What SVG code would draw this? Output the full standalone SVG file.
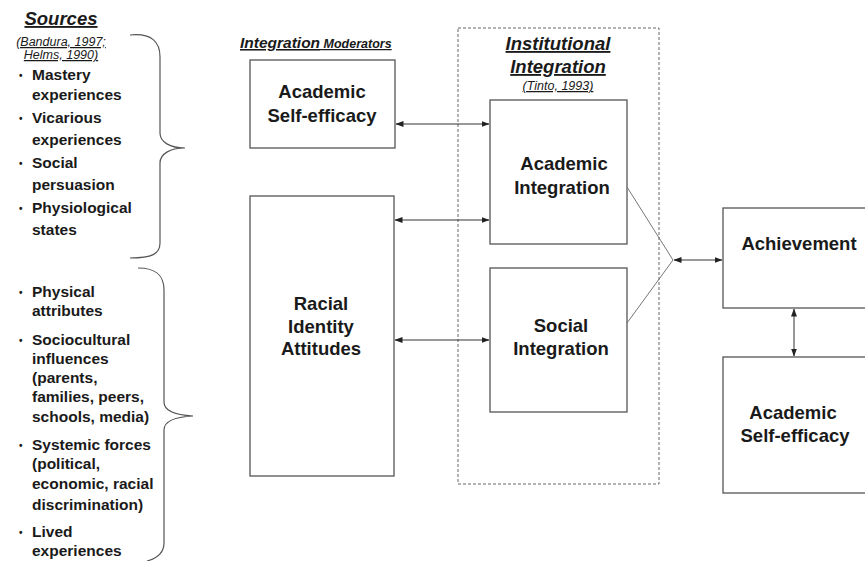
<svg xmlns="http://www.w3.org/2000/svg" width="865" height="561" viewBox="0 0 865 561">
<style>
text{font-family:"Liberation Sans",Arial,sans-serif;fill:#1a1a1a;font-weight:bold}
.box{fill:#fff;stroke:#555;stroke-width:1.3}
.bt{font-size:18.5px;text-anchor:middle}
.li{font-size:15.5px}
.bu{font-size:10px}
.ttl{font-style:italic;text-decoration:underline}
.cit{font-size:12.5px;font-weight:normal}
.con{stroke:#333;stroke-width:1;fill:none}
.thin{stroke:#777;stroke-width:1;fill:none}
.brace{stroke:#555;stroke-width:1.2;fill:none}
</style>
<defs>
<marker id="ah" viewBox="0 0 8 8" refX="7.5" refY="4" markerWidth="8" markerHeight="8" markerUnits="userSpaceOnUse" orient="auto-start-reverse">
<path d="M0,1 L8,4 L0,7 Z" fill="#222"/>
</marker>
</defs>
<rect width="865" height="561" fill="#fff"/>

<g id="sources">
<text class="ttl" x="61" y="25" font-size="18.5" text-anchor="middle">Sources</text>
<text class="ttl cit" x="61" y="46" text-anchor="middle">(Bandura, 1997;</text>
<text class="ttl cit" x="61" y="59" text-anchor="middle">Helms, 1990)</text>
<text x="19" y="79" class="bu">•</text><text x="32" y="80" class="li">Mastery</text>
<text x="32" y="100" class="li">experiences</text>
<text x="19" y="122" class="bu">•</text><text x="32" y="123" class="li">Vicarious</text>
<text x="32" y="145" class="li">experiences</text>
<text x="19" y="167" class="bu">•</text><text x="32" y="168" class="li">Social</text>
<text x="32" y="190" class="li">persuasion</text>
<text x="19" y="212" class="bu">•</text><text x="32" y="213" class="li">Physiological</text>
<text x="32" y="235" class="li">states</text>
<path class="brace" d="M130,35 C152,33 160,42 160,57 L160,133 C160,142 170,148 185,148 C170,148 160,154 160,163 L160,243 C160,254 152,258 130,258"/>
</g>

<g id="identity-sources">
<text x="19" y="296" class="bu">•</text><text x="32" y="297" class="li">Physical</text>
<text x="32" y="316" class="li">attributes</text>
<text x="19" y="344" class="bu">•</text><text x="32" y="345" class="li">Sociocultural</text>
<text x="32" y="364" class="li">influences</text>
<text x="32" y="383" class="li">(parents,</text>
<text x="32" y="402" class="li">families, peers,</text>
<text x="32" y="422" class="li">schools, media)</text>
<text x="19" y="449" class="bu">•</text><text x="32" y="450" class="li">Systemic forces</text>
<text x="32" y="469" class="li">(political,</text>
<text x="32" y="489" class="li">economic, racial</text>
<text x="32" y="510" class="li">discrimination)</text>
<text x="19" y="536" class="bu">•</text><text x="32" y="537" class="li">Lived</text>
<text x="32" y="556" class="li">experiences</text>
<path class="brace" d="M138,268 C156,268 164,275 164,290 L164,402 C164,410 174,415 193,416 C174,417 164,422 164,430 L164,543 C164,553 158,558 147,561"/>
</g>

<g id="moderators-label">
<text class="ttl" x="240" y="48"><tspan font-size="15.5">Integration</tspan><tspan font-size="12.5"> Moderators</tspan></text>
</g>

<g id="institutional-frame">
<rect x="458" y="28" width="201" height="456" fill="none" stroke="#666" stroke-width="1" stroke-dasharray="3,2"/>
<text class="ttl" x="558" y="50" font-size="18.5" text-anchor="middle">Institutional</text>
<text class="ttl" x="558" y="73" font-size="18.5" text-anchor="middle">Integration</text>
<text class="ttl cit" x="558" y="90" text-anchor="middle">(Tinto, 1993)</text>
</g>

<g id="ase-top">
<rect class="box" x="250" y="60" width="145" height="88"/>
<text class="bt" x="322" y="98">Academic</text>
<text class="bt" x="322" y="122">Self-efficacy</text>
</g>

<g id="racial">
<rect class="box" x="250" y="196" width="144" height="280"/>
<text class="bt" x="321" y="310">Racial</text>
<text class="bt" x="321" y="333">Identity</text>
<text class="bt" x="321" y="355">Attitudes</text>
</g>

<g id="academic-integration">
<rect class="box" x="490" y="100" width="137" height="144"/>
<text class="bt" x="564" y="170">Academic</text>
<text class="bt" x="562" y="194">Integration</text>
</g>

<g id="social-integration">
<rect class="box" x="490" y="268" width="137" height="144"/>
<text class="bt" x="561" y="332">Social</text>
<text class="bt" x="561" y="355">Integration</text>
</g>

<g id="achievement">
<rect class="box" x="723" y="208" width="150" height="100"/>
<text class="bt" x="799" y="250">Achievement</text>
</g>

<g id="ase-bottom">
<rect class="box" x="723" y="357" width="150" height="136"/>
<text class="bt" x="793" y="419">Academic</text>
<text class="bt" x="795" y="442">Self-efficacy</text>
</g>

<g id="connectors">
<line class="con" x1="396" y1="124" x2="489" y2="124" marker-start="url(#ah)" marker-end="url(#ah)"/>
<line class="con" x1="395" y1="220" x2="489" y2="220" marker-start="url(#ah)" marker-end="url(#ah)"/>
<line class="con" x1="395" y1="340" x2="489" y2="340" marker-start="url(#ah)" marker-end="url(#ah)"/>
<line class="thin" x1="627" y1="187" x2="673" y2="260"/>
<line class="thin" x1="627" y1="323" x2="673" y2="260"/>
<line class="con" x1="674" y1="260" x2="722" y2="260" marker-start="url(#ah)" marker-end="url(#ah)"/>
<line class="con" x1="794" y1="309" x2="794" y2="356" marker-start="url(#ah)" marker-end="url(#ah)"/>
</g>
</svg>
